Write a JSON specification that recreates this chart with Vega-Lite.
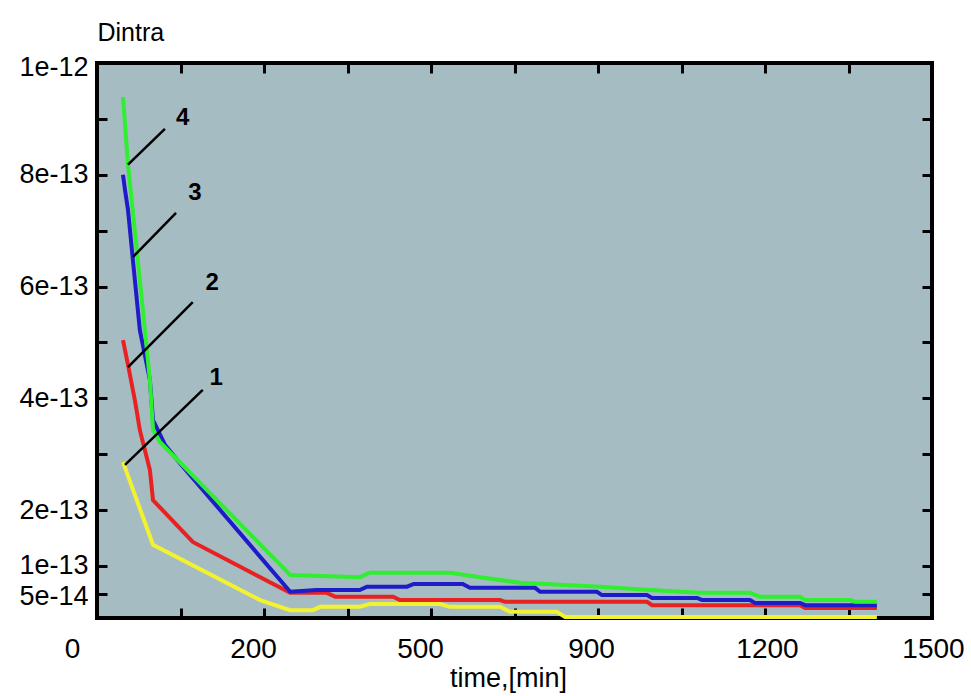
{
  "$schema": "https://vega.github.io/schema/vega-lite/v6.json",
  "autosize": {"type": "none"},
  "width": 835,
  "height": 555,
  "padding": {"left": 97, "top": 63, "right": 39, "bottom": 78},
  "background": "white",
  "config": {
    "view": {"fill": "#a6bcc3", "stroke": "black", "strokeWidth": 4},
    "font": "Liberation Sans"
  },
  "datasets": {
    "curves": [
      {"curve": "1", "t": 46.7, "D": 2.86e-13},
      {"curve": "1", "t": 100.6, "D": 1.38e-13},
      {"curve": "1", "t": 293, "D": 0.39e-13},
      {"curve": "1", "t": 347, "D": 0.21e-13},
      {"curve": "1", "t": 388, "D": 0.21e-13},
      {"curve": "1", "t": 401, "D": 0.27e-13},
      {"curve": "1", "t": 472, "D": 0.27e-13},
      {"curve": "1", "t": 490, "D": 0.32e-13},
      {"curve": "1", "t": 616, "D": 0.32e-13},
      {"curve": "1", "t": 634, "D": 0.27e-13},
      {"curve": "1", "t": 724, "D": 0.27e-13},
      {"curve": "1", "t": 742, "D": 0.18e-13},
      {"curve": "1", "t": 826, "D": 0.18e-13},
      {"curve": "1", "t": 841, "D": 0.09e-13},
      {"curve": "1", "t": 1401, "D": 0.09e-13},
      {"curve": "2", "t": 46.7, "D": 5.04e-13},
      {"curve": "2", "t": 55.7, "D": 4.60e-13},
      {"curve": "2", "t": 68, "D": 3.97e-13},
      {"curve": "2", "t": 77, "D": 3.43e-13},
      {"curve": "2", "t": 95, "D": 2.72e-13},
      {"curve": "2", "t": 100.6, "D": 2.18e-13},
      {"curve": "2", "t": 172, "D": 1.43e-13},
      {"curve": "2", "t": 347, "D": 0.52e-13},
      {"curve": "2", "t": 413, "D": 0.52e-13},
      {"curve": "2", "t": 428, "D": 0.45e-13},
      {"curve": "2", "t": 532, "D": 0.45e-13},
      {"curve": "2", "t": 544, "D": 0.39e-13},
      {"curve": "2", "t": 724, "D": 0.39e-13},
      {"curve": "2", "t": 733, "D": 0.36e-13},
      {"curve": "2", "t": 988, "D": 0.36e-13},
      {"curve": "2", "t": 997, "D": 0.30e-13},
      {"curve": "2", "t": 1263, "D": 0.30e-13},
      {"curve": "2", "t": 1272, "D": 0.25e-13},
      {"curve": "2", "t": 1401, "D": 0.25e-13},
      {"curve": "3", "t": 46.7, "D": 8.0e-13},
      {"curve": "3", "t": 50.3, "D": 7.73e-13},
      {"curve": "3", "t": 55.7, "D": 7.37e-13},
      {"curve": "3", "t": 61, "D": 6.83e-13},
      {"curve": "3", "t": 68, "D": 6.12e-13},
      {"curve": "3", "t": 77, "D": 5.22e-13},
      {"curve": "3", "t": 95, "D": 4.33e-13},
      {"curve": "3", "t": 100.6, "D": 3.61e-13},
      {"curve": "3", "t": 122, "D": 3.17e-13},
      {"curve": "3", "t": 149, "D": 2.84e-13},
      {"curve": "3", "t": 347, "D": 0.54e-13},
      {"curve": "3", "t": 395, "D": 0.57e-13},
      {"curve": "3", "t": 472, "D": 0.57e-13},
      {"curve": "3", "t": 485, "D": 0.63e-13},
      {"curve": "3", "t": 557, "D": 0.63e-13},
      {"curve": "3", "t": 569, "D": 0.68e-13},
      {"curve": "3", "t": 657, "D": 0.68e-13},
      {"curve": "3", "t": 670, "D": 0.61e-13},
      {"curve": "3", "t": 787, "D": 0.61e-13},
      {"curve": "3", "t": 796, "D": 0.54e-13},
      {"curve": "3", "t": 898, "D": 0.54e-13},
      {"curve": "3", "t": 907, "D": 0.48e-13},
      {"curve": "3", "t": 988, "D": 0.48e-13},
      {"curve": "3", "t": 997, "D": 0.43e-13},
      {"curve": "3", "t": 1078, "D": 0.43e-13},
      {"curve": "3", "t": 1087, "D": 0.39e-13},
      {"curve": "3", "t": 1173, "D": 0.39e-13},
      {"curve": "3", "t": 1182, "D": 0.34e-13},
      {"curve": "3", "t": 1263, "D": 0.34e-13},
      {"curve": "3", "t": 1272, "D": 0.30e-13},
      {"curve": "3", "t": 1401, "D": 0.30e-13},
      {"curve": "4", "t": 46.7, "D": 9.39e-13},
      {"curve": "4", "t": 55.7, "D": 8.18e-13},
      {"curve": "4", "t": 77, "D": 6.12e-13},
      {"curve": "4", "t": 95, "D": 4.33e-13},
      {"curve": "4", "t": 100.6, "D": 3.44e-13},
      {"curve": "4", "t": 113, "D": 3.22e-13},
      {"curve": "4", "t": 347, "D": 0.84e-13},
      {"curve": "4", "t": 472, "D": 0.80e-13},
      {"curve": "4", "t": 490, "D": 0.88e-13},
      {"curve": "4", "t": 634, "D": 0.88e-13},
      {"curve": "4", "t": 688, "D": 0.80e-13},
      {"curve": "4", "t": 760, "D": 0.70e-13},
      {"curve": "4", "t": 903, "D": 0.63e-13},
      {"curve": "4", "t": 993, "D": 0.57e-13},
      {"curve": "4", "t": 1083, "D": 0.52e-13},
      {"curve": "4", "t": 1173, "D": 0.52e-13},
      {"curve": "4", "t": 1191, "D": 0.45e-13},
      {"curve": "4", "t": 1263, "D": 0.45e-13},
      {"curve": "4", "t": 1272, "D": 0.39e-13},
      {"curve": "4", "t": 1353, "D": 0.39e-13},
      {"curve": "4", "t": 1362, "D": 0.36e-13},
      {"curve": "4", "t": 1401, "D": 0.36e-13}
    ],
    "callouts": [
      {"label": "1", "t1": 50.3, "D1": 2.81e-13, "t2": 190, "D2": 4.15e-13, "tl": 214, "Dl": 4.36e-13},
      {"label": "2", "t1": 55.7, "D1": 4.56e-13, "t2": 172, "D2": 5.72e-13, "tl": 207, "Dl": 6.06e-13},
      {"label": "3", "t1": 64.7, "D1": 6.53e-13, "t2": 142, "D2": 7.32e-13, "tl": 176, "Dl": 7.67e-13},
      {"label": "4", "t1": 55.7, "D1": 8.18e-13, "t2": 122, "D2": 8.82e-13, "tl": 154, "Dl": 9.02e-13}
    ]
  },
  "layer": [
    {
      "data": {"name": "curves"},
      "mark": {"type": "line", "strokeWidth": 4, "clip": false},
      "encoding": {
        "x": {
          "field": "t", "type": "quantitative",
          "scale": {"domain": [0, 1500], "nice": false, "zero": false},
          "axis": {
            "orient": "bottom",
            "values": [0, 150, 300, 450, 600, 750, 900, 1050, 1200, 1350, 1500],
            "labelExpr": "datum.value == 0 ? '0' : datum.value == 300 ? '200' : datum.value == 600 ? '500' : datum.value == 900 ? '900' : datum.value == 1200 ? '1200' : datum.value == 1500 ? '1500' : ''",
            "labelOffset": {"expr": "datum.value == 0 ? -25 : datum.value == 300 ? -11 : datum.value == 600 ? -11 : datum.value == 900 ? -7 : datum.value == 1200 ? 2 : 1"},
            "labelFlush": false,
            "labelOverlap": false,
            "labelFont": "Liberation Sans",
            "labelFontSize": 28,
            "labelColor": "black",
            "labelPadding": 27,
            "domain": false,
            "grid": false,
            "tickSize": -10,
            "tickWidth": 3,
            "tickColor": "black",
            "title": "time,[min]",
            "titleFont": "Liberation Sans",
            "titleFontSize": 27,
            "titleFontWeight": "normal",
            "titleColor": "black",
            "titleX": 411,
            "titleY": 68,
            "titleAlign": "center",
            "titleBaseline": "alphabetic"
          }
        },
        "y": {
          "field": "D", "type": "quantitative",
          "scale": {"domain": [7e-15, 1e-12], "nice": false, "zero": false},
          "axis": {
            "orient": "left",
            "values": [5e-14, 1e-13, 2e-13, 3e-13, 4e-13, 5e-13, 6e-13, 7e-13, 8e-13, 9e-13, 1e-12],
            "labelExpr": "round(datum.value * 1e14) == 5 ? '5e-14' : round(datum.value * 1e14) == 10 ? '1e-13' : round(datum.value * 1e14) == 20 ? '2e-13' : round(datum.value * 1e14) == 40 ? '4e-13' : round(datum.value * 1e14) == 60 ? '6e-13' : round(datum.value * 1e14) == 80 ? '8e-13' : round(datum.value * 1e14) == 100 ? '1e-12' : ''",
            "labelOffset": {"expr": "round(datum.value * 1e14) == 5 ? 3 : round(datum.value * 1e14) == 10 ? -1 : round(datum.value * 1e14) == 100 ? 4 : 0"},
            "labelFlush": false,
            "labelOverlap": false,
            "labelFont": "Liberation Sans",
            "labelFontSize": 27,
            "labelColor": "black",
            "labelPadding": 19,
            "domain": false,
            "grid": false,
            "tickSize": -10,
            "tickWidth": 3,
            "tickColor": "black",
            "title": "Dintra",
            "titleFont": "Liberation Sans",
            "titleFontSize": 25,
            "titleFontWeight": "normal",
            "titleColor": "black",
            "titleAngle": 0,
            "titleX": 0,
            "titleY": -23,
            "titleAlign": "left",
            "titleBaseline": "alphabetic"
          }
        },
        "color": {
          "field": "curve", "type": "nominal",
          "scale": {"domain": ["1", "2", "3", "4"], "range": ["#f2f230", "#e82222", "#1c1cc8", "#30ee30"]},
          "legend": null
        }
      }
    },
    {
      "data": {"name": "callouts"},
      "mark": {"type": "rule", "color": "black", "strokeWidth": 2.5},
      "encoding": {
        "x": {
          "field": "t1", "type": "quantitative",
          "scale": {"domain": [0, 1500], "nice": false, "zero": false},
          "axis": {
            "orient": "top",
            "values": [0, 150, 300, 450, 600, 750, 900, 1050, 1200, 1350, 1500],
            "labels": false, "domain": false, "grid": false,
            "tickSize": -10, "tickWidth": 3, "tickColor": "black",
            "title": null
          }
        },
        "y": {
          "field": "D1", "type": "quantitative",
          "scale": {"domain": [7e-15, 1e-12], "nice": false, "zero": false},
          "axis": {
            "orient": "right",
            "values": [5e-14, 1e-13, 2e-13, 3e-13, 4e-13, 5e-13, 6e-13, 7e-13, 8e-13, 9e-13, 1e-12],
            "labels": false, "domain": false, "grid": false,
            "tickSize": -10, "tickWidth": 3, "tickColor": "black",
            "title": null
          }
        },
        "x2": {"field": "t2"},
        "y2": {"field": "D2"}
      }
    },
    {
      "data": {"name": "callouts"},
      "mark": {"type": "text", "font": "Liberation Sans", "fontSize": 24, "fontWeight": "bold", "color": "black", "align": "center", "baseline": "middle"},
      "encoding": {
        "x": {"field": "tl", "type": "quantitative", "scale": {"domain": [0, 1500], "nice": false, "zero": false}, "axis": null},
        "y": {"field": "Dl", "type": "quantitative", "scale": {"domain": [7e-15, 1e-12], "nice": false, "zero": false}, "axis": null},
        "text": {"field": "label"}
      }
    }
  ],
  "resolve": {"axis": {"x": "independent", "y": "independent"}}
}
